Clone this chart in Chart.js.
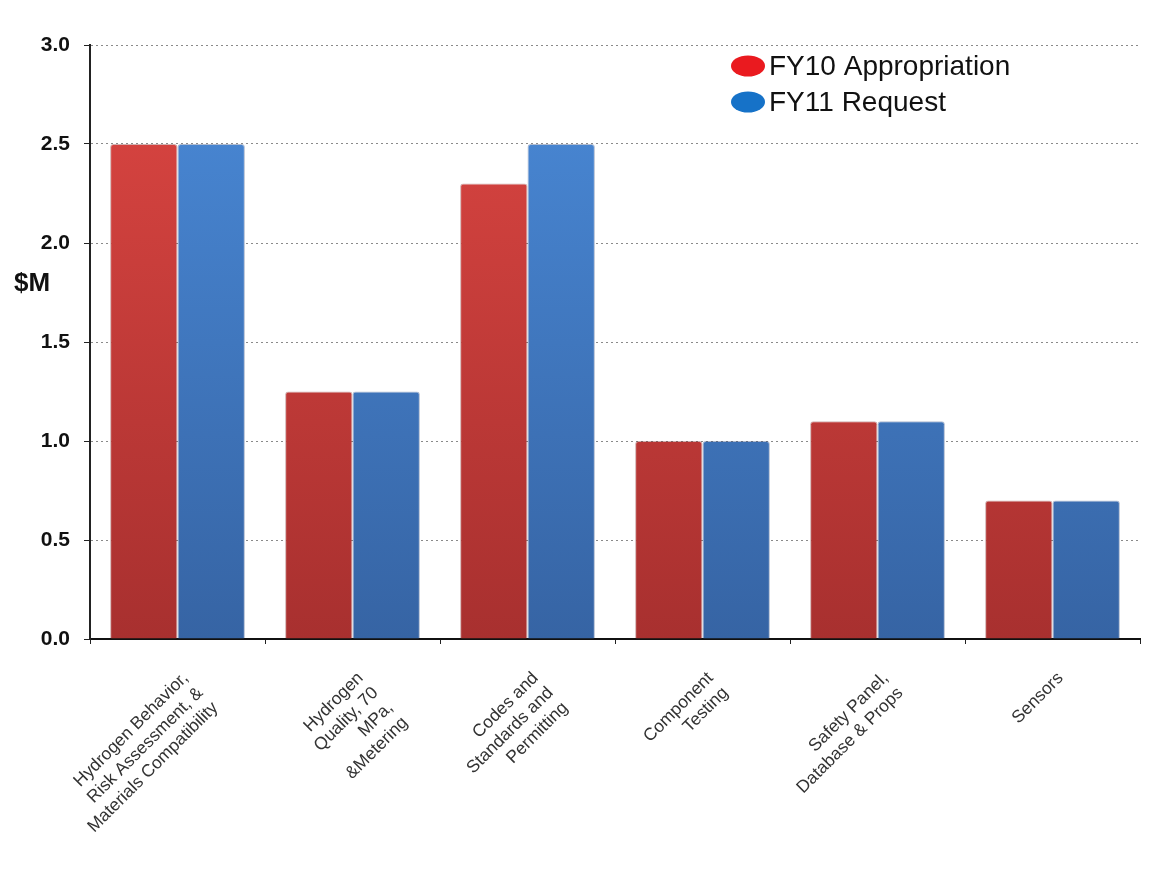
<!DOCTYPE html>
<html>
<head>
<meta charset="utf-8">
<script src="https://cdn.jsdelivr.net/npm/chart.js@4/dist/chart.umd.min.js"></script>
<style>
  html, body { margin: 0; padding: 0; background: #fff; }
  #wrap { width: 1153px; height: 885px; }
</style>
</head>
<body>
<div id="wrap"><canvas id="my-chart"></canvas></div>
<script>
const categories = [
    ['Hydrogen Behavior,', 'Risk Assessment, &', 'Materials Compatibility'],
    ['Hydrogen', 'Quality, 70', 'MPa,', '&Metering'],
    ['Codes and', 'Standards and', 'Permitting'],
    ['Component', 'Testing'],
    ['Safety Panel,', 'Database & Props'],
    ['Sensors']
]
const fy10 = [2.5, 1.25, 2.3, 1.0, 1.1, 0.7]
const fy11 = [2.5, 1.25, 2.5, 1.0, 1.1, 0.7]
const seriesNames = ['FY10 Appropriation', 'FY11 Request']
const legendDots = ['#ea1a1f', '#1672c8']

// vertical shading like the original office chart
function shade(top, bottom) {
    return (ctx) => {
        const area = ctx.chart.chartArea
        if (!area) return top
        const g = ctx.chart.ctx.createLinearGradient(0, area.top, 0, area.bottom)
        g.addColorStop(0, top)
        g.addColorStop(1, bottom)
        return g
    }
}

const legendInside = {
    id: 'legendInside',
    afterDraw(chart) {
        const c = chart.ctx
        c.save()
        c.font = '28px "Liberation Sans", Arial, sans-serif'
        c.textBaseline = 'middle'
        chart.data.datasets.forEach((ds, i) => {
            const y = 66 + i * 36
            c.fillStyle = legendDots[i]
            c.beginPath()
            c.ellipse(748, y, 17, 10.5, 0, 0, Math.PI * 2)
            c.fill()
            c.fillStyle = '#111'
            c.fillText(ds.label, 769, y + 1)
        })
        // y axis title, horizontal
        c.font = 'bold 26px "Liberation Sans", Arial, sans-serif'
        c.textAlign = 'center'
        c.fillText('$M', 32, 284)
        c.restore()
    }
}

const ctxBar = document.getElementById('my-chart').getContext('2d')
new Chart(ctxBar, {
    type: 'bar',
    data: {
        labels: categories,
        datasets: [{
            label: seriesNames[0],
            data: fy10,
            backgroundColor: shade('#dc4642', '#a8302f'),
            borderColor: 'rgba(120,30,30,0.35)',
            borderWidth: 1,
            borderRadius: { topLeft: 3, topRight: 3 },
            borderSkipped: 'bottom'
        }, {
            label: seriesNames[1],
            data: fy11,
            backgroundColor: shade('#4a8ad8', '#3664a4'),
            borderColor: 'rgba(30,60,120,0.35)',
            borderWidth: 1,
            borderRadius: { topLeft: 3, topRight: 3 },
            borderSkipped: 'bottom'
        }]
    },
    options: {
        responsive: true,
        maintainAspectRatio: false,
        animation: false,
        layout: { padding: { top: 45, right: 13, left: 0, bottom: 0 } },
        datasets: { bar: { categoryPercentage: 0.77, barPercentage: 1.0 } },
        plugins: {
            legend: { display: false },
            tooltip: { enabled: false }
        },
        scales: {
            x: {
                grid: {
                    offset: true,
                    drawOnChartArea: false,
                    drawTicks: true,
                    tickLength: 5,
                    tickColor: '#222'
                },
                border: { color: '#111', width: 2 },
                ticks: {
                    maxRotation: 45,
                    minRotation: 45,
                    color: '#333',
                    font: { family: '"Liberation Sans", Arial, sans-serif', size: 17.5 },
                    padding: 24,
                    labelOffset: 8
                },
                afterFit(scale) { scale.height = 246 }
            },
            y: {
                min: 0,
                max: 3,
                ticks: {
                    stepSize: 0.5,
                    color: '#111',
                    padding: 14,
                    font: { family: '"Liberation Sans", Arial, sans-serif', size: 21, weight: 'bold' },
                    callback: (v) => v.toFixed(1)
                },
                grid: {
                    color: '#8a8a8a',
                    tickColor: '#222',
                    tickLength: 6,
                    tickBorderDash: []
                },
                border: { color: '#222', width: 2, dash: [2, 3] },
                afterFit(scale) { scale.width = 90 }
            }
        }
    },
    plugins: [legendInside]
})
</script>
</body>
</html>
